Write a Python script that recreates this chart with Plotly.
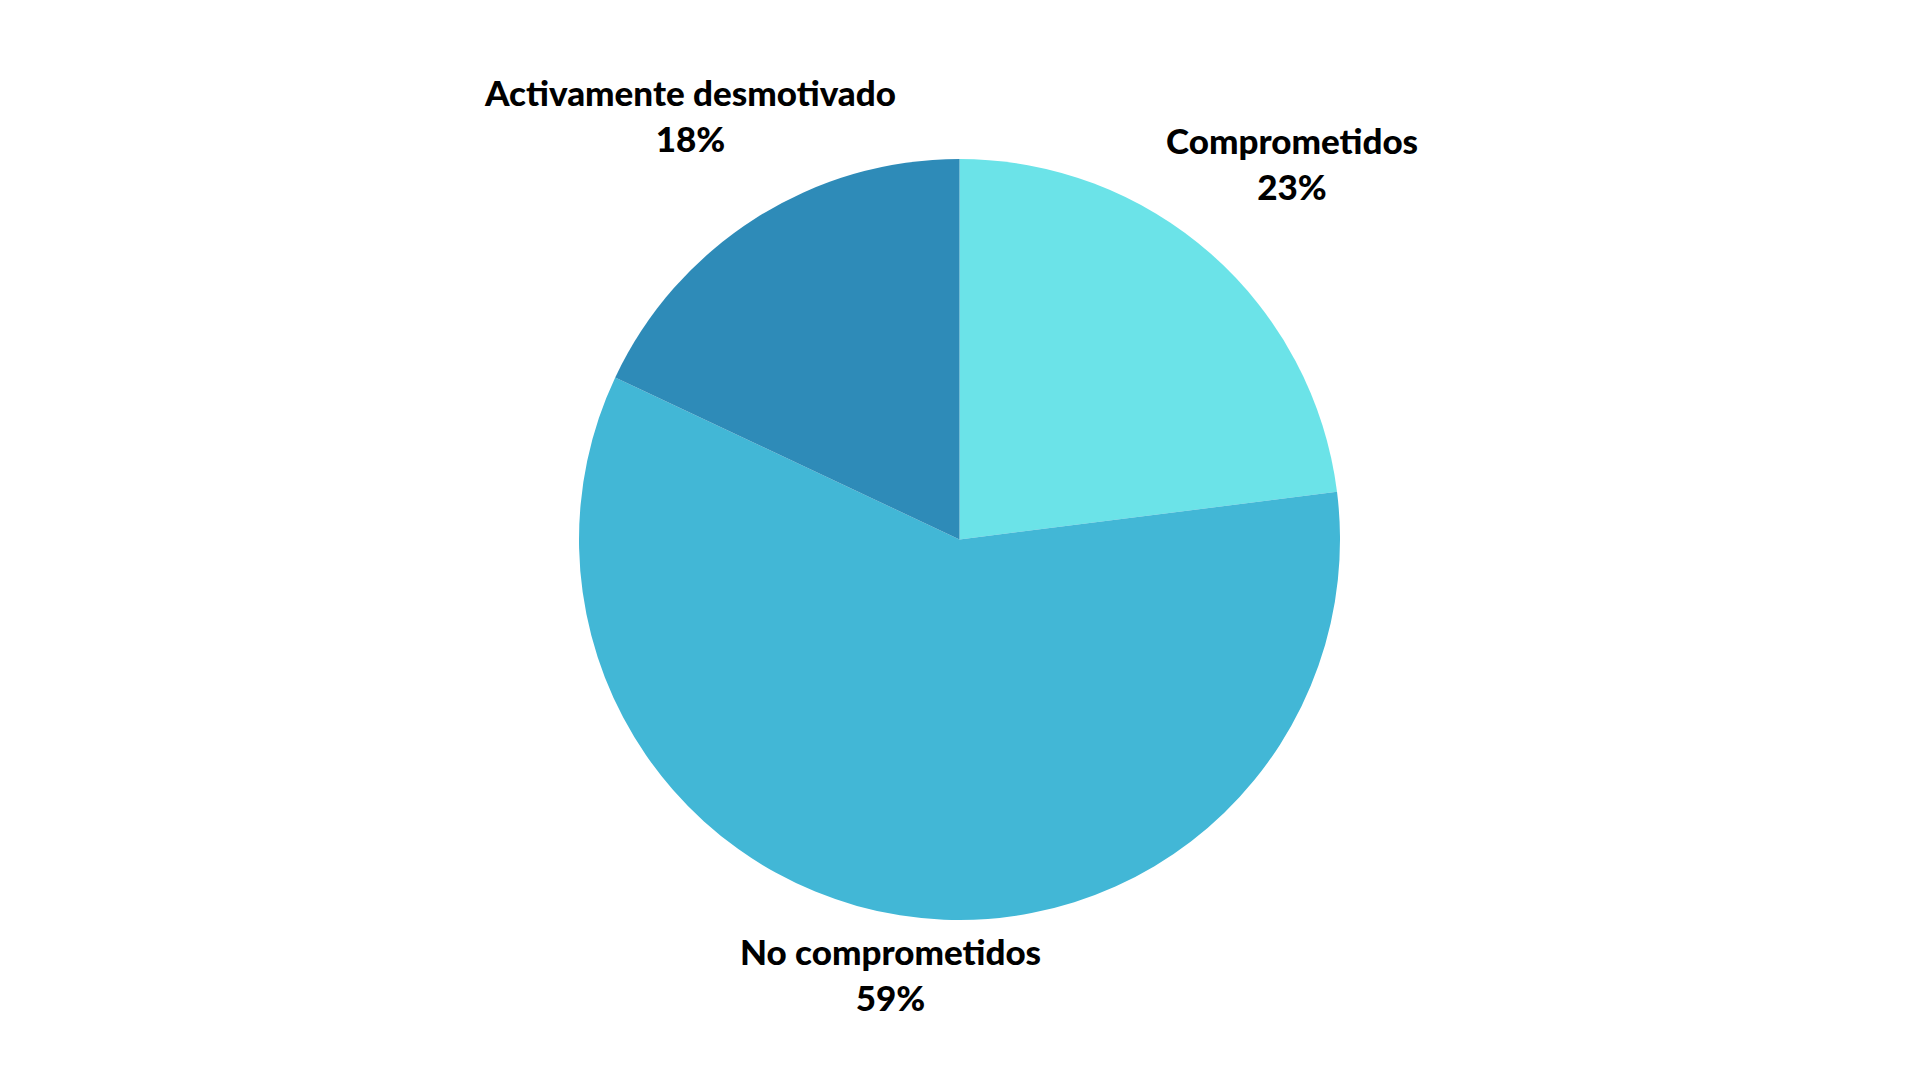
import plotly.graph_objects as go

categories = ["Comprometidos", "No comprometidos", "Activamente desmotivado"]
values = [23, 59, 18]
colors = ["#6BE3E8", "#42B7D6", "#2E8BB8"]

# label block centres (paper coords)
label_x = [0.6690, 0.4598, 0.3550]
label_y = [0.8565, 0.1053, 0.9013]

fig = go.Figure(go.Pie(
    labels=categories,
    values=values,
    marker=dict(colors=colors, line=dict(width=0)),
    sort=False,
    direction="clockwise",
    rotation=0,
    textinfo="none",
    hoverinfo="label+percent",
    domain=dict(x=[0, 0.99115], y=[0.15556, 0.86019]),
    showlegend=False,
))

total = sum(values)
for cat, v, x, y in zip(categories, values, label_x, label_y):
    fig.add_annotation(
        text=f"{cat}<br>{round(100 * v / total)}%",
        x=x, y=y, xref="paper", yref="paper",
        xanchor="center", yanchor="middle",
        showarrow=False, align="center",
        font=dict(family="Lato", size=35, color="#000000", weight=900),
    )

fig.update_layout(
    width=1920, height=1080,
    margin=dict(l=0, r=0, t=0, b=0),
    paper_bgcolor="#FFFFFF",
    plot_bgcolor="#FFFFFF",
)

fig.write_html("out.html")
